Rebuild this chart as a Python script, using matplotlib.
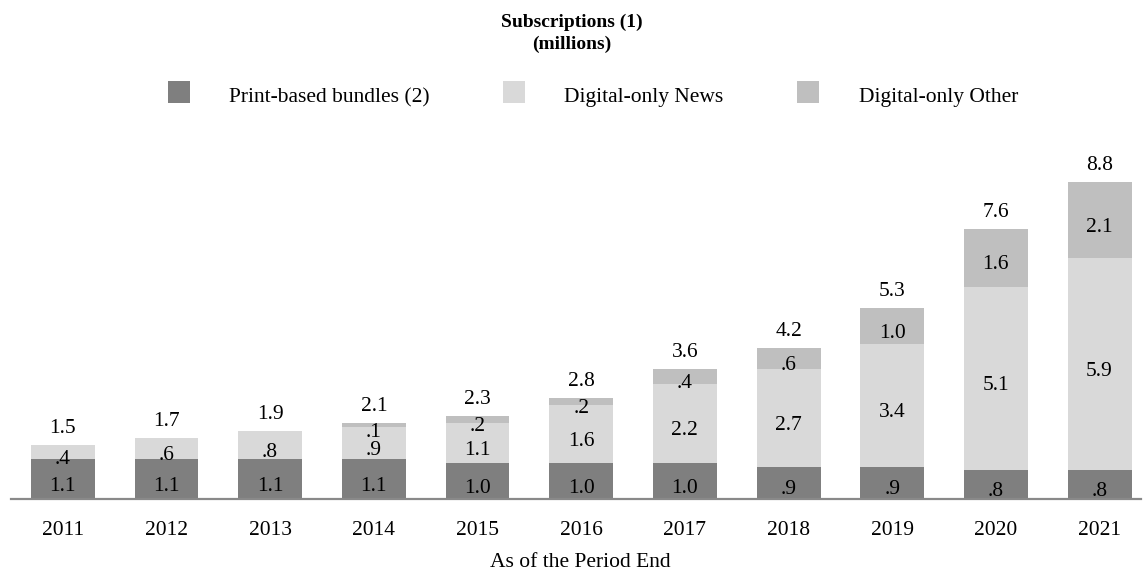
import matplotlib
matplotlib.use("Agg")
import matplotlib.pyplot as plt
from matplotlib.patches import Rectangle

years = ["2011", "2012", "2013", "2014", "2015", "2016", "2017", "2018", "2019", "2020", "2021"]
print_bundles = [1.1, 1.1, 1.1, 1.1, 1.0, 1.0, 1.0, 0.9, 0.9, 0.8, 0.8]
digital_news = [0.4, 0.6, 0.8, 0.9, 1.1, 1.6, 2.2, 2.7, 3.4, 5.1, 5.9]
digital_other = [0.0, 0.0, 0.0, 0.1, 0.2, 0.2, 0.4, 0.6, 1.0, 1.6, 2.1]
totals = [1.5, 1.7, 1.9, 2.1, 2.3, 2.8, 3.6, 4.2, 5.3, 7.6, 8.8]

series_names = ["Print-based bundles (2)", "Digital-only News", "Digital-only Other"]
colors = ["#7f7f7f", "#d9d9d9", "#bfbfbf"]

plt.rcParams["font.family"] = ["Liberation Serif", "DejaVu Serif"]

W, H = 1144, 573
fig = plt.figure(figsize=(W / 100, H / 100), dpi=100)
ax = fig.add_axes([11 / W, 74 / H, 1130 / W, 360 / H])

def fmt(v):
    s = f"{v:.1f}"
    return s[1:] if s.startswith("0") else s

x = list(range(len(years)))
bottoms = [0.0] * len(years)
for vals, c in zip([print_bundles, digital_news, digital_other], colors):
    ax.bar(x, vals, width=0.617, bottom=bottoms, color=c, linewidth=0)
    for i, v in enumerate(vals):
        if v > 0:
            ax.annotate(fmt(v), (i, bottoms[i] + v / 2), xytext=(0, -8.4),
                        textcoords="offset points", ha="center", va="baseline",
                        fontsize=15.5, color="black")
    bottoms = [b + v for b, v in zip(bottoms, vals)]

for i, t in enumerate(totals):
    ax.annotate(fmt(t), (i, bottoms[i]), xytext=(0, 8.6), textcoords="offset points",
                ha="center", va="baseline", fontsize=15.5, color="black")

ax.set_xlim(-0.5, 10.4)
ax.set_ylim(0, 10)
ax.set_xticks(x)
ax.set_xticklabels(years, fontsize=15.5)
ax.tick_params(axis="x", length=0, pad=16)
ax.set_yticks([])
for s in ["left", "right", "top"]:
    ax.spines[s].set_visible(False)
ax.spines["bottom"].set_color("#898989")
ax.spines["bottom"].set_linewidth(1.6)

fig.text(580 / W, 1 - 567 / H, "As of the Period End", ha="center", va="baseline", fontsize=15.5)

fig.text(572 / W, 1 - 27 / H, "Subscriptions (1)", ha="center", va="baseline",
         fontsize=14, fontweight="bold")
fig.text(572 / W, 1 - 49 / H, "(millions)", ha="center", va="baseline",
         fontsize=14, fontweight="bold")

# legend drawn by hand to keep the wide spacing
marker_x = [168, 503, 797]
text_x = [229, 564, 859]
for mx, tx, name, c in zip(marker_x, text_x, series_names, colors):
    fig.add_artist(Rectangle((mx / W, 1 - 103 / H), 22 / W, 22 / H,
                             transform=fig.transFigure, color=c, linewidth=0))
    fig.text(tx / W, 1 - 102 / H, name, ha="left", va="baseline", fontsize=15.5)

fig.savefig("out.png", dpi=100)
